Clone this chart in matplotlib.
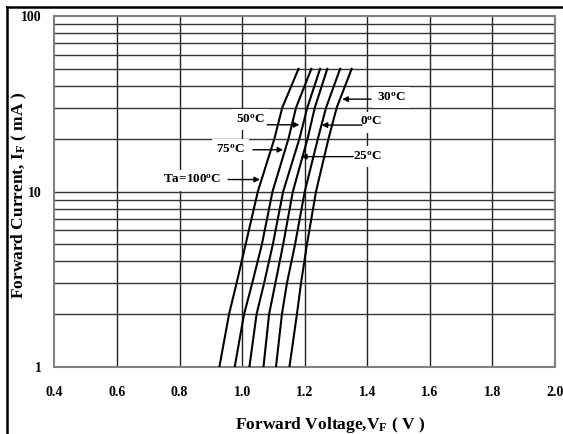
import numpy as np
import matplotlib
matplotlib.use('Agg')
import matplotlib.pyplot as plt
from matplotlib.lines import Line2D

plt.rcParams['font.family'] = ['Liberation Serif', 'DejaVu Serif']
plt.rcParams['font.weight'] = 'bold'
plt.rcParams['mathtext.fontset'] = 'custom'
plt.rcParams['mathtext.rm'] = 'Liberation Serif:bold'
plt.rcParams['mathtext.it'] = 'Liberation Serif:bold'
plt.rcParams['mathtext.bf'] = 'Liberation Serif:bold'

# forward current (mA) and forward voltage (V)
current = [1, 2, 3, 5, 10, 20, 30, 50]
vf_100 = [0.927, 0.958, 0.982, 1.011, 1.050, 1.103, 1.128, 1.180]
vf_75 = [0.976, 1.006, 1.032, 1.063, 1.097, 1.148, 1.172, 1.221]
vf_50 = [1.023, 1.046, 1.070, 1.098, 1.131, 1.183, 1.208, 1.249]
vf_25 = [1.068, 1.086, 1.106, 1.131, 1.162, 1.209, 1.232, 1.272]
vf_0 = [1.108, 1.127, 1.143, 1.169, 1.200, 1.242, 1.268, 1.313]
vf_30 = [1.151, 1.175, 1.188, 1.207, 1.236, 1.276, 1.302, 1.350]
curves = [vf_100, vf_75, vf_50, vf_25, vf_0, vf_30]

# label text, text position, arrow tail, arrow tip (V, mA)
labels = [
    (r'Ta=100$^{\mathrm{o}}$C', (0.84, 11.6), (0.955, 11.7), (1.057, 11.7)),
    (r'75$^{\mathrm{o}}$C', (0.963, 17.3), (1.034, 17.3), (1.131, 17.3)),
    (r'50$^{\mathrm{o}}$C', (1.026, 25.6), (1.080, 24.0), (1.183, 24.0)),
    (r'25$^{\mathrm{o}}$C', (1.40, 15.8), (1.355, 15.8), (1.188, 15.8)),
    (r'0$^{\mathrm{o}}$C', (1.412, 24.8), (1.383, 23.9), (1.254, 23.9)),
    (r'30$^{\mathrm{o}}$C', (1.477, 34.4), (1.412, 33.6), (1.320, 33.6)),
]

xticks = [0.4, 0.6, 0.8, 1.0, 1.2, 1.4, 1.6, 1.8, 2.0]

fig = plt.figure(figsize=(5.63, 4.34), dpi=100)
ax = fig.add_axes([0.0968, 0.1544, 0.889, 0.8087])

ax.set_yscale('log')
ax.set_xlim(0.4, 2.0)
ax.set_ylim(1, 100)

# grid
for x in xticks[1:-1]:
    ax.axvline(x, color='#222222', lw=1.0, zorder=1)
for dec in [1, 10]:
    for k in range(2, 11):
        y = dec * k
        if y < 100:
            ax.axhline(y, color='#333333', lw=1.0, zorder=1)

for vf in curves:
    ax.plot(vf, current, color='black', lw=1.5, zorder=3)

for txt, tpos, tail, tip in labels:
    ax.text(tpos[0], tpos[1], txt, fontsize=9.5, fontweight='bold', ha='center', va='center',
            zorder=4, bbox=dict(facecolor='white', edgecolor='none', pad=3))
    ax.annotate('', xy=tip, xytext=tail, zorder=5,
                arrowprops=dict(arrowstyle='-|>', color='black', lw=1.0,
                                mutation_scale=8, shrinkA=0, shrinkB=0))

ax.set_xticks(xticks)
ax.set_xticklabels(['%.1f' % x for x in xticks])
ax.set_yticks([1, 10, 100])
ax.set_yticklabels(['1', '10', '100'])
ax.minorticks_off()
ax.tick_params(length=0, labelsize=10)
ax.tick_params(axis='x', pad=14)
ax.tick_params(axis='y', pad=9)

for s in ax.spines.values():
    s.set_color('#808080')
    s.set_linewidth(1.5)

ax.set_xlabel(r'Forward Voltage,V$_{\mathrm{F}}$ ( V )', fontsize=12.5, fontweight='bold')
ax.xaxis.set_label_coords(0.55, -0.164)
ax.set_ylabel(r'Forward Current, I$_{\mathrm{F}}$ ( mA )', fontsize=12.5, fontweight='bold')
ax.yaxis.set_label_coords(-0.071, 0.49)
ax.xaxis.label.set_va('center')
ax.yaxis.label.set_va('center')

# page frame
fig.add_artist(Line2D([6.5 / 563, 6.5 / 563], [0, 1 - 6.5 / 434], transform=fig.transFigure,
                      color='black', lw=1.8))
fig.add_artist(Line2D([6.5 / 563, 1], [1 - 6.5 / 434, 1 - 6.5 / 434], transform=fig.transFigure,
                      color='black', lw=1.8))

fig.savefig('out.png', dpi=100)
